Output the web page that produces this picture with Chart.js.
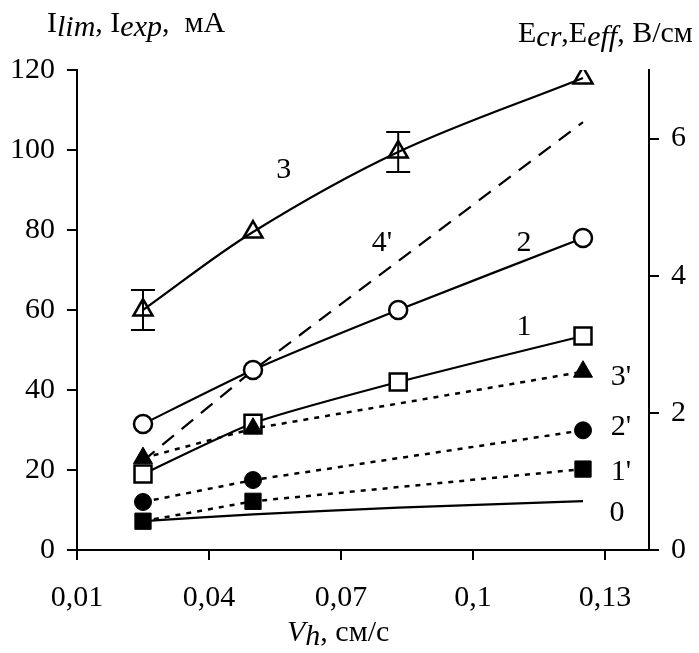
<!DOCTYPE html>
<html><head><meta charset="utf-8">
<script src="https://cdn.jsdelivr.net/npm/chart.js@4/dist/chart.umd.min.js"></script>
<style>html,body{margin:0;padding:0;background:#fff;overflow:hidden}#wrap{width:699px;height:653px}</style>
</head><body><div id="wrap"><canvas id="c" width="699" height="653"></canvas></div>
<script>
// ---- data ----
const velocities = [0.025, 0.05, 0.083, 0.125];
const xTicks = [0.01, 0.04, 0.07, 0.10, 0.13];
const xTickLabels = ['0,01', '0,04', '0,07', '0,1', '0,13'];
const leftTicks = [0, 20, 40, 60, 80, 100, 120];
const rightTicks = [0, 2, 4, 6];
const curve3 = [60, 79.5, 99.5, 118];
const curve3Err = [5, 0, 5, 0];
const curve2 = [31.5, 45, 60, 78];
const curve1 = [19, 31.7, 42, 53.5];
const curve0 = [7.2, 8.9, 10.6, 12.2];
const primeX = [0.025, 0.05, 0.125];
const curve3p = [1.34, 1.77, 2.60];
const curve2p = [0.70, 1.02, 1.745];
const curve1p = [0.42, 0.71, 1.18];
const curve4p = [1.30, 2.62, 6.24];
const curveNames = ['3', "4'", '2', '1', "3'", "2'", "1'", '0'];
const curveNameX = [0.057, 0.0793, 0.1116, 0.1116, 0.1336, 0.1336, 0.1336, 0.1327];
const curveNameY = [95, 76.75, 76.75, 55.75, 43.25, 30.75, 19.5, 9.25];

const SERIF = '"Liberation Serif", "Times New Roman", serif';
const FS = 30;
const pts = (xs, ys) => xs.map((x, i) => ({x, y: ys[i]}));

const solid = (label, ys, style, r, tension) => ({
  label, data: pts(velocities, ys), yAxisID: 'y',
  borderColor: '#000', borderWidth: 2.2, backgroundColor: '#fff',
  pointStyle: style, pointRadius: r, pointHoverRadius: r, pointBorderWidth: 2.5,
  pointBackgroundColor: '#fff', pointBorderColor: '#000',
  tension: tension, fill: false
});
const dotted = (label, ys, style, r) => ({
  label, data: pts(primeX, ys), yAxisID: 'y2',
  borderColor: '#000', borderWidth: 2.5, borderDash: [5, 6],
  pointStyle: style, pointRadius: r, pointHoverRadius: r, pointBorderWidth: 1,
  pointBackgroundColor: '#000', pointBorderColor: '#000', tension: 0, fill: false
});

const ds3 = solid('3', curve3, 'triangle', 11, 0.35);
ds3.pointBackgroundColor = 'rgba(255,255,255,0)';
const ds0 = solid('0', curve0, 'circle', 0, 0.3);
const ds4p = {
  label: "4'", data: pts(primeX, curve4p), yAxisID: 'y2',
  borderColor: '#000', borderWidth: 2.2, borderDash: [15, 10],
  pointRadius: 0, tension: 0, fill: false
};

const datasets = [
  dotted("3'", curve3p, 'triangle', 11),
  dotted("2'", curve2p, 'circle', 8.5),
  dotted("1'", curve1p, 'rect', 11.5),
  ds3,
  solid('2', curve2, 'circle', 9, 0.2),
  solid('1', curve1, 'rect', 12, 0.2),
  ds0,
  ds4p
];

const fixTicks = (arr) => (s) => { s.ticks = arr.map(v => ({value: v})); };
const axisCommon = {
  grid: {display: true, drawOnChartArea: false, drawTicks: true, tickLength: 10, color: '#000', lineWidth: 2},
  border: {display: true, color: '#000', width: 2}
};

const errorBars = {
  id: 'errorBars',
  afterDatasetsDraw(chart) {
    const {ctx, scales: {x, y}} = chart;
    ctx.save();
    ctx.strokeStyle = '#000'; ctx.lineWidth = 2;
    velocities.forEach((v, i) => {
      const e = curve3Err[i];
      if (!e) return;
      const px = x.getPixelForValue(v);
      const top = y.getPixelForValue(curve3[i] + e);
      const bot = y.getPixelForValue(curve3[i] - e);
      ctx.beginPath();
      ctx.moveTo(px, top); ctx.lineTo(px, bot);
      ctx.moveTo(px - 12, top); ctx.lineTo(px + 12, top);
      ctx.moveTo(px - 12, bot); ctx.lineTo(px + 12, bot);
      ctx.stroke();
    });
    ctx.restore();
  }
};

function richText(ctx, x, y, parts, size) {
  let cx = x;
  parts.forEach(p => {
    ctx.font = (p.i ? 'italic ' : '') + size + 'px ' + SERIF;
    ctx.fillText(p.t, cx, y + (p.dy || 0));
    cx += ctx.measureText(p.t).width;
  });
}

const texts = {
  id: 'texts',
  afterDraw(chart) {
    const {ctx, scales: {x, y}} = chart;
    ctx.save();
    ctx.fillStyle = '#000';
    ctx.textBaseline = 'alphabetic';
    ctx.textAlign = 'left';
    richText(ctx, 47, 32, [
      {t: 'I'}, {t: 'lim', i: true, dy: 4}, {t: ', I'}, {t: 'exp', i: true, dy: 4}, {t: ',  мА'}
    ], FS);
    richText(ctx, 518, 42, [
      {t: 'E'}, {t: 'cr', i: true, dy: 4}, {t: ',E'}, {t: 'eff', i: true, dy: 4}, {t: ', В/см'}
    ], FS);
    richText(ctx, 287, 641, [
      {t: 'V', i: true}, {t: 'h', i: true, dy: 4}, {t: ', см/с'}
    ], FS);
    ctx.textAlign = 'center';
    ctx.textBaseline = 'middle';
    ctx.font = FS + 'px ' + SERIF;
    curveNames.forEach((n, i) => {
      ctx.fillText(n, x.getPixelForValue(curveNameX[i]), y.getPixelForValue(curveNameY[i]));
    });
    ctx.restore();
  }
};

new Chart(document.getElementById('c'), {
  type: 'line',
  data: {datasets},
  options: {
    responsive: false, animation: false, devicePixelRatio: 1,
    layout: {padding: {top: 70, left: 0, right: 0, bottom: 0}},
    plugins: {legend: {display: false}, tooltip: {enabled: false}},
    scales: {
      x: Object.assign({}, axisCommon, {
        type: 'linear', min: 0.01, max: 0.14, position: 'bottom',
        afterBuildTicks: fixTicks(xTicks),
        afterFit: s => { s.height = 103; },
        ticks: {autoSkip: false, maxRotation: 0, padding: 20, color: '#000',
          font: {family: SERIF, size: FS},
          callback: (v, i) => xTickLabels[i]}
      }),
      y: Object.assign({}, axisCommon, {
        type: 'linear', min: 0, max: 120, position: 'left',
        afterBuildTicks: fixTicks(leftTicks),
        afterFit: s => { s.width = 77; },
        ticks: {padding: 12, color: '#000', font: {family: SERIF, size: FS}}
      }),
      y2: Object.assign({}, axisCommon, {
        type: 'linear', min: 0, max: 7, position: 'right',
        afterBuildTicks: fixTicks(rightTicks),
        afterFit: s => { s.width = 50; },
        ticks: {padding: 12, color: '#000', font: {family: SERIF, size: FS}}
      })
    }
  },
  plugins: [errorBars, texts]
});
</script>
</body></html>
